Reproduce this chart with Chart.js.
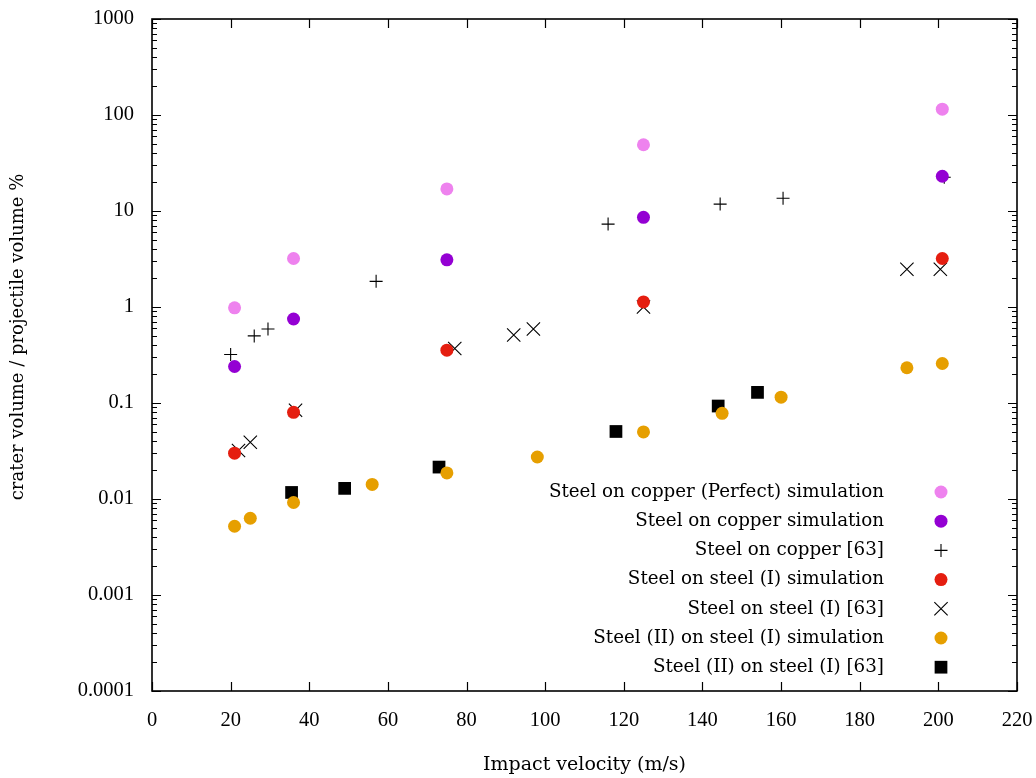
<!DOCTYPE html>
<html lang="en">
<head>
<meta charset="UTF-8">
<title>Crater volume</title>
<script src="https://cdn.jsdelivr.net/npm/chart.js"></script>
<style>
  body { margin: 0; background: #fff; }
  #wrap { width: 1036px; height: 778px; }
</style>
</head>
<body>
<div id="wrap">
  <canvas id="myChart" width="1036" height="778"></canvas>
</div>
<script>
  // impact velocity (m/s) and crater volume / projectile volume %
  const perfectX = [21, 36, 75, 125, 201];
  const perfectY = [0.98, 3.2, 17, 49, 115];

  const copperSimX = [21, 36, 75, 125, 201];
  const copperSimY = [0.24, 0.75, 3.1, 8.6, 23];

  const copperExpX = [20, 26, 29.5, 57, 116, 144.5, 160.5, 201.5];
  const copperExpY = [0.32, 0.5, 0.59, 1.85, 7.3, 11.8, 13.6, 22.5];

  const steelSimX = [21, 36, 75, 125, 201];
  const steelSimY = [0.030, 0.080, 0.355, 1.13, 3.2];

  const steelExpX = [22, 25, 36.5, 77, 92, 97, 125, 192, 200.5];
  const steelExpY = [0.032, 0.039, 0.084, 0.37, 0.51, 0.59, 1.0, 2.47, 2.47];

  const steel2SimX = [21, 25, 36, 56, 75, 98, 125, 145, 160, 192, 201];
  const steel2SimY = [0.0052, 0.0063, 0.0092, 0.0142, 0.0187, 0.0274, 0.050, 0.078, 0.115, 0.233, 0.258];

  const steel2ExpX = [35.5, 49, 73, 118, 144, 154];
  const steel2ExpY = [0.0117, 0.0129, 0.0215, 0.0505, 0.093, 0.129];

  const xTicks = [0, 20, 40, 60, 80, 100, 120, 140, 160, 180, 200, 220];
  const yTickValues = [0.0001, 0.001, 0.01, 0.1, 1, 10, 100, 1000];
  const yTickLabels = ['0.0001', '0.001', '0.01', '0.1', '1', '10', '100', '1000'];

  const TEXT_FONT = '"DejaVu Serif", serif';
  const NUM_FONT = '"Liberation Serif", serif';

  function pts(xs, ys) {
    return xs.map((x, i) => ({ x: x, y: ys[i] }));
  }

  function dot(label, xs, ys, color) {
    return {
      label: label, data: pts(xs, ys),
      pointStyle: 'circle', pointRadius: 6.5, pointHoverRadius: 6.5,
      backgroundColor: color, borderColor: color, borderWidth: 0
    };
  }

  const datasets = [
    dot('Steel on copper (Perfect) simulation', perfectX, perfectY, '#ee82ee'),
    dot('Steel on copper simulation', copperSimX, copperSimY, '#9400d3'),
    {
      label: 'Steel on copper [63]', data: pts(copperExpX, copperExpY),
      pointStyle: 'cross', pointRadius: 6.5, pointHoverRadius: 6.5,
      backgroundColor: '#000', borderColor: '#000', borderWidth: 1.1
    },
    dot('Steel on steel (I) simulation', steelSimX, steelSimY, '#e51e10'),
    {
      label: 'Steel on steel (I) [63]', data: pts(steelExpX, steelExpY),
      pointStyle: 'crossRot', pointRadius: 9.4, pointHoverRadius: 9.4,
      backgroundColor: '#000', borderColor: '#000', borderWidth: 1.1
    },
    dot('Steel (II) on steel (I) simulation', steel2SimX, steel2SimY, '#e69f00'),
    {
      label: 'Steel (II) on steel (I) [63]', data: pts(steel2ExpX, steel2ExpY),
      pointStyle: 'rect', pointRadius: 9, pointHoverRadius: 9,
      backgroundColor: '#000', borderColor: '#000', borderWidth: 0
    }
  ];

  // gnuplot style frame: border, inward ticks on all sides, titles and key
  const frame = {
    id: 'frame',
    afterDatasetsDraw(chart) {
      const ctx = chart.ctx;
      const a = chart.chartArea;
      const xs = chart.scales.x, ys = chart.scales.y;
      ctx.save();
      ctx.strokeStyle = '#000';
      ctx.lineWidth = 1.2;
      ctx.beginPath();
      xTicks.forEach(v => {
        const px = Math.round(xs.getPixelForValue(v)) + 0.5;
        ctx.moveTo(px, a.bottom); ctx.lineTo(px, a.bottom - 9);
        ctx.moveTo(px, a.top); ctx.lineTo(px, a.top + 9);
      });
      yTickValues.forEach((v, i) => {
        const py = Math.round(ys.getPixelForValue(v)) + 0.5;
        ctx.moveTo(a.left, py); ctx.lineTo(a.left + 9, py);
        ctx.moveTo(a.right, py); ctx.lineTo(a.right - 9, py);
        if (i < yTickValues.length - 1) {
          for (let m = 2; m <= 9; m++) {
            const my = Math.round(ys.getPixelForValue(v * m)) + 0.5;
            ctx.moveTo(a.left, my); ctx.lineTo(a.left + 5, my);
            ctx.moveTo(a.right, my); ctx.lineTo(a.right - 5, my);
          }
        }
      });
      ctx.stroke();
      ctx.lineWidth = 1.6;
      ctx.strokeRect(a.left, a.top, a.right - a.left, a.bottom - a.top);

      // axis titles
      ctx.fillStyle = '#000';
      ctx.textAlign = 'center';
      ctx.textBaseline = 'middle';
      ctx.font = '19px ' + TEXT_FONT;
      ctx.fillText('Impact velocity (m/s)', (a.left + a.right) / 2, 765);
      ctx.font = '18px ' + TEXT_FONT;
      ctx.save();
      ctx.translate(18, 337);
      ctx.rotate(-Math.PI / 2);
      ctx.fillText('crater volume / projectile volume %', 0, 0);
      ctx.restore();

      // key
      ctx.font = '18.3px ' + TEXT_FONT;
      ctx.textAlign = 'right';
      chart.data.datasets.forEach((ds, i) => {
        const y = 492 + i * 29.2;
        const kx = 941;
        ctx.fillStyle = '#000';
        ctx.fillText(ds.label, 884, y);
        ctx.fillStyle = ds.backgroundColor;
        ctx.strokeStyle = ds.borderColor;
        ctx.lineWidth = ds.borderWidth;
        ctx.beginPath();
        if (ds.pointStyle === 'circle') {
          ctx.arc(kx, y, ds.pointRadius, 0, Math.PI * 2);
          ctx.fill();
        } else if (ds.pointStyle === 'rect') {
          const s = ds.pointRadius * Math.SQRT1_2;
          ctx.fillRect(kx - s, y - s, 2 * s, 2 * s);
        } else if (ds.pointStyle === 'cross') {
          const r = ds.pointRadius;
          ctx.moveTo(kx - r, y); ctx.lineTo(kx + r, y);
          ctx.moveTo(kx, y - r); ctx.lineTo(kx, y + r);
          ctx.stroke();
        } else {
          const r = ds.pointRadius * Math.SQRT1_2;
          ctx.moveTo(kx - r, y - r); ctx.lineTo(kx + r, y + r);
          ctx.moveTo(kx - r, y + r); ctx.lineTo(kx + r, y - r);
          ctx.stroke();
        }
      });
      ctx.restore();
    }
  };

  const ctx = document.getElementById('myChart');

  new Chart(ctx, {
    type: 'scatter',
    data: { datasets: datasets },
    options: {
      responsive: false,
      animation: false,
      layout: { padding: { top: 19, right: 19, left: 0, bottom: 0 } },
      plugins: { legend: { display: false }, tooltip: { enabled: false } },
      scales: {
        x: {
          type: 'linear', min: 0, max: 220,
          afterBuildTicks: s => { s.ticks = xTicks.map(v => ({ value: v })); },
          afterFit: s => {
            s.height = 87;
            s.paddingLeft = 0; s.paddingRight = 0;
          },
          grid: { display: false, drawTicks: false },
          border: { display: false },
          ticks: { padding: 17, color: '#000', font: { family: NUM_FONT, size: 20.5 } }
        },
        y: {
          type: 'logarithmic', min: 0.0001, max: 1000,
          afterBuildTicks: s => { s.ticks = yTickValues.map(v => ({ value: v })); },
          afterFit: s => {
            s.width = 152;
            s.paddingTop = 0; s.paddingBottom = 0;
          },
          grid: { display: false, drawTicks: false },
          border: { display: false },
          ticks: {
            padding: 18, color: '#000', font: { family: NUM_FONT, size: 20.5 },
            callback: (v, i) => yTickLabels[i]
          }
        }
      }
    },
    plugins: [frame]
  });
</script>
</body>
</html>
